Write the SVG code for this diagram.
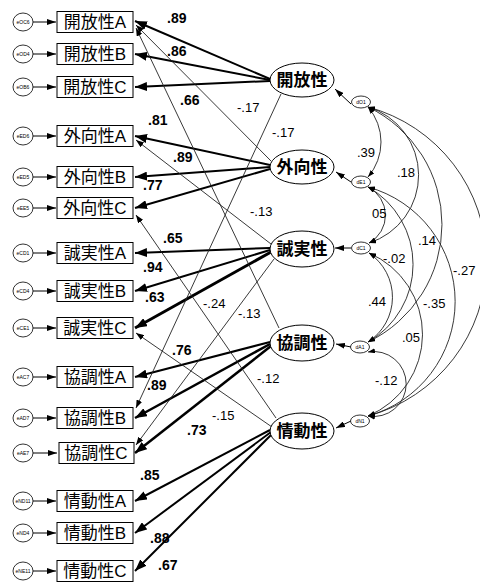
<svg xmlns="http://www.w3.org/2000/svg" width="480" height="587" viewBox="0 0 480 587">
<style>
text{font-family:"Liberation Sans","Noto Sans CJK JP",sans-serif;fill:#000}
.box{fill:#fff;stroke:#000;stroke-width:1}
.ell{fill:#fff;stroke:#000;stroke-width:1}
.err{fill:#fff;stroke:#000;stroke-width:0.8}
.bl{font-size:17px;text-anchor:middle}
.fl{font-size:17px;font-weight:bold;text-anchor:middle}
.el{font-size:5px;text-anchor:middle}
.ld{stroke:#000;stroke-width:2;fill:none;marker-end:url(#ah)}
.cl{stroke:#222;stroke-width:0.9;fill:none;marker-end:url(#at)}
.ea{stroke:#000;stroke-width:1;fill:none;marker-end:url(#ae)}
.cv{stroke:#222;stroke-width:0.9;fill:none;marker-start:url(#ac);marker-end:url(#ac)}
.b{font-size:14px;font-weight:bold}
.t{font-size:13px}
</style>
<defs>
<marker id="ah" viewBox="0 0 12 9" refX="12" refY="4.5" markerWidth="12" markerHeight="9" markerUnits="userSpaceOnUse" orient="auto"><path d="M0,0 L12,4.5 L0,9 z" fill="#000"/></marker>
<marker id="at" viewBox="0 0 8 6" refX="8" refY="3" markerWidth="8" markerHeight="6" markerUnits="userSpaceOnUse" orient="auto"><path d="M0,0 L8,3 L0,6 z" fill="#000"/></marker>
<marker id="ae" viewBox="0 0 9 6" refX="9" refY="3" markerWidth="9" markerHeight="6" markerUnits="userSpaceOnUse" orient="auto"><path d="M0,0 L9,3 L0,6 z" fill="#000"/></marker>
<marker id="ac" viewBox="0 0 7 5" refX="7" refY="2.5" markerWidth="7" markerHeight="5" markerUnits="userSpaceOnUse" orient="auto-start-reverse"><path d="M0,0 L7,2.5 L0,5 z" fill="#000"/></marker>
</defs>
<rect width="480" height="587" fill="#fff"/>

<g id="connectors">
<!-- error arrows -->
<path class="ea" d="M33,22 L56,22"/>
<path class="ea" d="M33,54 L56,54"/>
<path class="ea" d="M33,87 L56,87"/>
<path class="ea" d="M33,136 L56,136"/>
<path class="ea" d="M33,177 L56,177"/>
<path class="ea" d="M33,208 L56,208"/>
<path class="ea" d="M33,253 L56,253"/>
<path class="ea" d="M33,291 L56,291"/>
<path class="ea" d="M33,328 L56,328"/>
<path class="ea" d="M33,377 L56,377"/>
<path class="ea" d="M33,418 L56,418"/>
<path class="ea" d="M33,453 L57,453"/>
<path class="ea" d="M33,501 L56,501"/>
<path class="ea" d="M33,533 L56,533"/>
<path class="ea" d="M33,571 L56,571"/>
<!-- loadings -->
<path class="ld" d="M270,79 L135,21"/>
<path class="ld" d="M270,80 L135,54"/>
<path class="ld" d="M270,81 L135,87"/>
<path class="ld" d="M270,165 L135,136"/>
<path class="ld" d="M270,167 L135,177"/>
<path class="ld" d="M270,169 L135,208"/>
<path class="ld" d="M270,248 L135,253"/>
<path class="ld" d="M270,250 L135,291"/>
<path class="ld" style="stroke-width:3" d="M271,252 L135,328"/>
<path class="ld" d="M270,342 L135,377"/>
<path class="ld" style="stroke-width:2.5" d="M270,344 L135,418"/>
<path class="ld" style="stroke-width:2.5" d="M271,346 L135,453"/>
<path class="ld" d="M270,430 L135,501"/>
<path class="ld" d="M271,432 L135,533"/>
<path class="ld" d="M272,434 L135,571"/>
<!-- cross loadings -->
<path class="cl" d="M271,161 L136,25"/>
<path class="cl" d="M279,328 L136,28"/>
<path class="cl" d="M281,94 L136,408"/>
<path class="cl" d="M271,244 L136,140"/>
<path class="cl" d="M274,259 L136,445"/>
<path class="cl" d="M276,418 L136,215"/>
<path class="cl" d="M272,427 L136,333"/>
<!-- disturbances -->
<path class="ea" d="M351,104 L335,89"/>
<path class="ea" d="M351,182 L336,172"/>
<path class="ea" d="M351,248 L335,248"/>
<path class="ea" d="M351,347 L336,344"/>
<path class="ea" d="M351,421 L336,428"/>
<!-- covariances -->
<path class="cv" d="M368,107 A53.6,53.6 0 0 1 368,177"/>
<path class="cv" d="M368,107 A71.2,71.2 0 0 1 369,243"/>
<path class="cv" d="M368,107 A130.3,130.3 0 0 1 368,342"/>
<path class="cv" d="M368,107 A160,160 0 0 1 368,416"/>
<path class="cv" d="M368,187 A31.6,31.6 0 0 1 369,243"/>
<path class="cv" d="M368,187 A89.2,89.2 0 0 1 368,342"/>
<path class="cv" d="M368,187 A118.8,118.8 0 0 1 368,416"/>
<path class="cv" d="M369,253 A53.3,53.3 0 0 1 368,342"/>
<path class="cv" d="M369,253 A88.5,88.5 0 0 1 368,416"/>
<path class="cv" d="M368,352 A32.5,32.5 0 1 1 368,416"/>
</g>

<g id="labels">
<text class="b" x="167" y="23">.89</text>
<text class="b" x="167" y="56">.86</text>
<text class="b" x="180" y="105">.66</text>
<text class="b" x="148" y="125">.81</text>
<text class="b" x="173" y="162">.89</text>
<text class="b" x="143" y="190">.77</text>
<text class="b" x="163" y="243">.65</text>
<text class="b" x="143" y="272">.94</text>
<text class="b" x="145" y="302">.63</text>
<text class="b" x="172" y="355">.76</text>
<text class="b" x="147" y="390">.89</text>
<text class="b" x="187" y="435">.73</text>
<text class="b" x="140" y="480">.85</text>
<text class="b" x="150" y="543">.88</text>
<text class="b" x="158" y="570">.67</text>
<text class="t" x="237" y="112">-.17</text>
<text class="t" x="272" y="137">-.17</text>
<text class="t" x="250" y="216">-.13</text>
<text class="t" x="203" y="308">-.24</text>
<text class="t" x="238" y="318">-.13</text>
<text class="t" x="257" y="383">-.12</text>
<text class="t" x="212" y="420">-.15</text>
<text class="t" x="357" y="157">.39</text>
<text class="t" x="397" y="177">.18</text>
<text class="t" x="372" y="218">05</text>
<text class="t" x="418" y="245">.14</text>
<text class="t" x="383" y="263">-.02</text>
<text class="t" x="453" y="275">-.27</text>
<text class="t" x="368" y="306">.44</text>
<text class="t" x="423" y="308">-.35</text>
<text class="t" x="402" y="342">.05</text>
<text class="t" x="375" y="385">-.12</text>
</g>

<g id="eOC6"><ellipse class="err" cx="23" cy="22" rx="10" ry="9"/><text class="el" x="23" y="24">eOC6</text></g>
<g id="eOD4"><ellipse class="err" cx="23" cy="54" rx="10" ry="9"/><text class="el" x="23" y="56">eOD4</text></g>
<g id="eOB6"><ellipse class="err" cx="23" cy="87" rx="10" ry="9"/><text class="el" x="23" y="89">eOB6</text></g>
<g id="eED6"><ellipse class="err" cx="23" cy="136" rx="10" ry="9"/><text class="el" x="23" y="138">eED6</text></g>
<g id="eED5"><ellipse class="err" cx="23" cy="177" rx="10" ry="9"/><text class="el" x="23" y="179">eED5</text></g>
<g id="eEE5"><ellipse class="err" cx="23" cy="208" rx="10" ry="9"/><text class="el" x="23" y="210">eEE5</text></g>
<g id="eCD1"><ellipse class="err" cx="23" cy="253" rx="10" ry="9"/><text class="el" x="23" y="255">eCD1</text></g>
<g id="eCD4"><ellipse class="err" cx="23" cy="291" rx="10" ry="9"/><text class="el" x="23" y="293">eCD4</text></g>
<g id="eCE1"><ellipse class="err" cx="23" cy="328" rx="10" ry="9"/><text class="el" x="23" y="330">eCE1</text></g>
<g id="eAC7"><ellipse class="err" cx="23" cy="377" rx="10" ry="9"/><text class="el" x="23" y="379">eAC7</text></g>
<g id="eAD7"><ellipse class="err" cx="23" cy="418" rx="10" ry="9"/><text class="el" x="23" y="420">eAD7</text></g>
<g id="eAE7"><ellipse class="err" cx="23" cy="453" rx="10" ry="9"/><text class="el" x="23" y="455">eAE7</text></g>
<g id="eND11"><ellipse class="err" cx="23" cy="501" rx="10" ry="9"/><text class="el" x="23" y="503">eND11</text></g>
<g id="eND4"><ellipse class="err" cx="23" cy="533" rx="10" ry="9"/><text class="el" x="23" y="535">eND4</text></g>
<g id="eNE11"><ellipse class="err" cx="23" cy="571" rx="10" ry="9"/><text class="el" x="23" y="573">eNE11</text></g>

<g id="O_A"><rect class="box" x="57" y="11.5" width="76" height="21"/><text class="bl" x="95" y="28">開放性A</text></g>
<g id="O_B"><rect class="box" x="57" y="43.5" width="76" height="21"/><text class="bl" x="95" y="60">開放性B</text></g>
<g id="O_C"><rect class="box" x="57" y="76.5" width="76" height="21"/><text class="bl" x="95" y="93">開放性C</text></g>
<g id="E_A"><rect class="box" x="57" y="125.5" width="76" height="21"/><text class="bl" x="95" y="142">外向性A</text></g>
<g id="E_B"><rect class="box" x="57" y="166.5" width="76" height="21"/><text class="bl" x="95" y="183">外向性B</text></g>
<g id="E_C"><rect class="box" x="57" y="197.5" width="76" height="21"/><text class="bl" x="95" y="214">外向性C</text></g>
<g id="C_A"><rect class="box" x="57" y="242.5" width="76" height="21"/><text class="bl" x="95" y="259">誠実性A</text></g>
<g id="C_B"><rect class="box" x="57" y="280.5" width="76" height="21"/><text class="bl" x="95" y="297">誠実性B</text></g>
<g id="C_C"><rect class="box" x="57" y="317.5" width="76" height="21"/><text class="bl" x="95" y="334">誠実性C</text></g>
<g id="A_A"><rect class="box" x="57" y="366.5" width="76" height="21"/><text class="bl" x="95" y="383">協調性A</text></g>
<g id="A_B"><rect class="box" x="57" y="407.5" width="76" height="21"/><text class="bl" x="95" y="424">協調性B</text></g>
<g id="A_C"><rect class="box" x="59" y="442.5" width="75" height="21"/><text class="bl" x="96" y="459">協調性C</text></g>
<g id="N_A"><rect class="box" x="57" y="490.5" width="76" height="21"/><text class="bl" x="95" y="507">情動性A</text></g>
<g id="N_B"><rect class="box" x="57" y="522.5" width="76" height="21"/><text class="bl" x="95" y="539">情動性B</text></g>
<g id="N_C"><rect class="box" x="57" y="560.5" width="76" height="21"/><text class="bl" x="95" y="577">情動性C</text></g>

<g id="F_O"><ellipse class="ell" cx="302" cy="80" rx="32" ry="17"/><text class="fl" x="302" y="86">開放性</text></g>
<g id="F_E"><ellipse class="ell" cx="302" cy="167" rx="32" ry="17"/><text class="fl" x="302" y="173">外向性</text></g>
<g id="F_C"><ellipse class="ell" cx="302" cy="249" rx="32" ry="18"/><text class="fl" x="302" y="255">誠実性</text></g>
<g id="F_A"><ellipse class="ell" cx="302" cy="343" rx="32" ry="18"/><text class="fl" x="302" y="349">協調性</text></g>
<g id="F_N"><ellipse class="ell" cx="302" cy="431" rx="32" ry="18"/><text class="fl" x="302" y="437">情動性</text></g>

<g id="dO1"><ellipse class="err" cx="361" cy="102" rx="9.5" ry="6"/><text class="el" x="361" y="104">dO1</text></g>
<g id="dE1"><ellipse class="err" cx="361" cy="182" rx="9.5" ry="6"/><text class="el" x="361" y="184">dE1</text></g>
<g id="dC1"><ellipse class="err" cx="361" cy="248" rx="9.5" ry="6"/><text class="el" x="361" y="250">dC1</text></g>
<g id="dA1"><ellipse class="err" cx="360" cy="347" rx="9.5" ry="6"/><text class="el" x="360" y="349">dA1</text></g>
<g id="dN1"><ellipse class="err" cx="360" cy="421" rx="9.5" ry="6"/><text class="el" x="360" y="423">dN1</text></g>
</svg>
